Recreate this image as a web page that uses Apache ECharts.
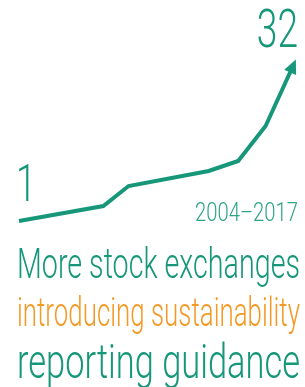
<!DOCTYPE html>
<html>
<head>
<meta charset="utf-8">
<script src="https://cdn.jsdelivr.net/npm/echarts@6/dist/echarts.min.js"></script>
<style>
  html, body { margin: 0; padding: 0; background: #fff; }
  #chart { width: 305px; height: 387px; }
</style>
</head>
<body>
<div id="chart"></div>
<script>
// number of stock exchanges with sustainability reporting guidance
const years = [2004, 2008, 2009.2, 2013, 2014.4, 2015.7, 2017];
const counts = [1, 4, 8, 11, 13, 20, 32];
const periodLabel = '2004\u20132017';
const titleLines = ['More stock exchanges', 'introducing sustainability', 'reporting guidance'];

const green = '#16977a';
const orange = '#f39a26';
const fontName = 'Roboto, "Liberation Sans", sans-serif';

// squeeze text horizontally, the original face is a light condensed one
const ctx = document.createElement('canvas').getContext('2d');
function fontStr(size) {
  return '300 ' + size + 'px ' + fontName;
}
function textWidth(text, size) {
  ctx.font = fontStr(size);
  return ctx.measureText(text).width;
}
// text placed by its baseline (zrender centers on the em box)
function textEl(text, x, baseline, size, color, scaleX, align) {
  return {
    type: 'text', x: x, y: baseline + 0.2 * size, scaleX: scaleX, originX: 0,
    style: { text: text, fill: color, font: fontStr(size),
             align: align || 'left', verticalAlign: 'bottom' },
    z: 10
  };
}

const last = counts.length - 1;
const seriesData = years.map((y, i) => {
  const item = { value: [y, counts[i]] };
  if (i === last) {
    item.symbol = 'triangle';
    item.symbolSize = [13, 14];
    item.symbolRotate = -24;
  }
  return item;
});

const chart = echarts.init(document.getElementById('chart'));
chart.setOption({
  animation: false,
  grid: { left: 19, right: 12, top: 66, bottom: 166 },
  xAxis: { type: 'value', min: 2004, max: 2017, show: false },
  yAxis: { type: 'value', min: 1, max: 32, show: false },
  series: [{
    type: 'line',
    data: seriesData,
    symbol: 'none',
    lineStyle: { color: green, width: 4, cap: 'butt', join: 'miter' },
    itemStyle: { color: green }
  }]
});

// end-point values, placed from the chart's own scales
const p0 = chart.convertToPixel({ gridIndex: 0 }, [years[0], counts[0]]);
const p1 = chart.convertToPixel({ gridIndex: 0 }, [years[last], counts[last]]);
const numScale = 0.7;
const titleSizes = [42, 41, 48];
const titleBase = [280, 328, 380];
const graphics = [
  textEl(String(counts[0]), p0[0] - 3, p0[1] - 17, 52, green, numScale),
  textEl(String(counts[last]), p1[0] + 5, p1[1] - 16, 53, green, numScale, 'right'),
  textEl(periodLabel, 298, 222, 25, '#2ea486', 103 / textWidth(periodLabel, 25), 'right')
];
titleLines.forEach((t, i) => {
  const s = titleSizes[i];
  graphics.push(textEl(t, 17, titleBase[i], s, i === 1 ? orange : green, 283 / textWidth(t, s)));
});
chart.setOption({ graphic: graphics });
</script>
</body>
</html>
